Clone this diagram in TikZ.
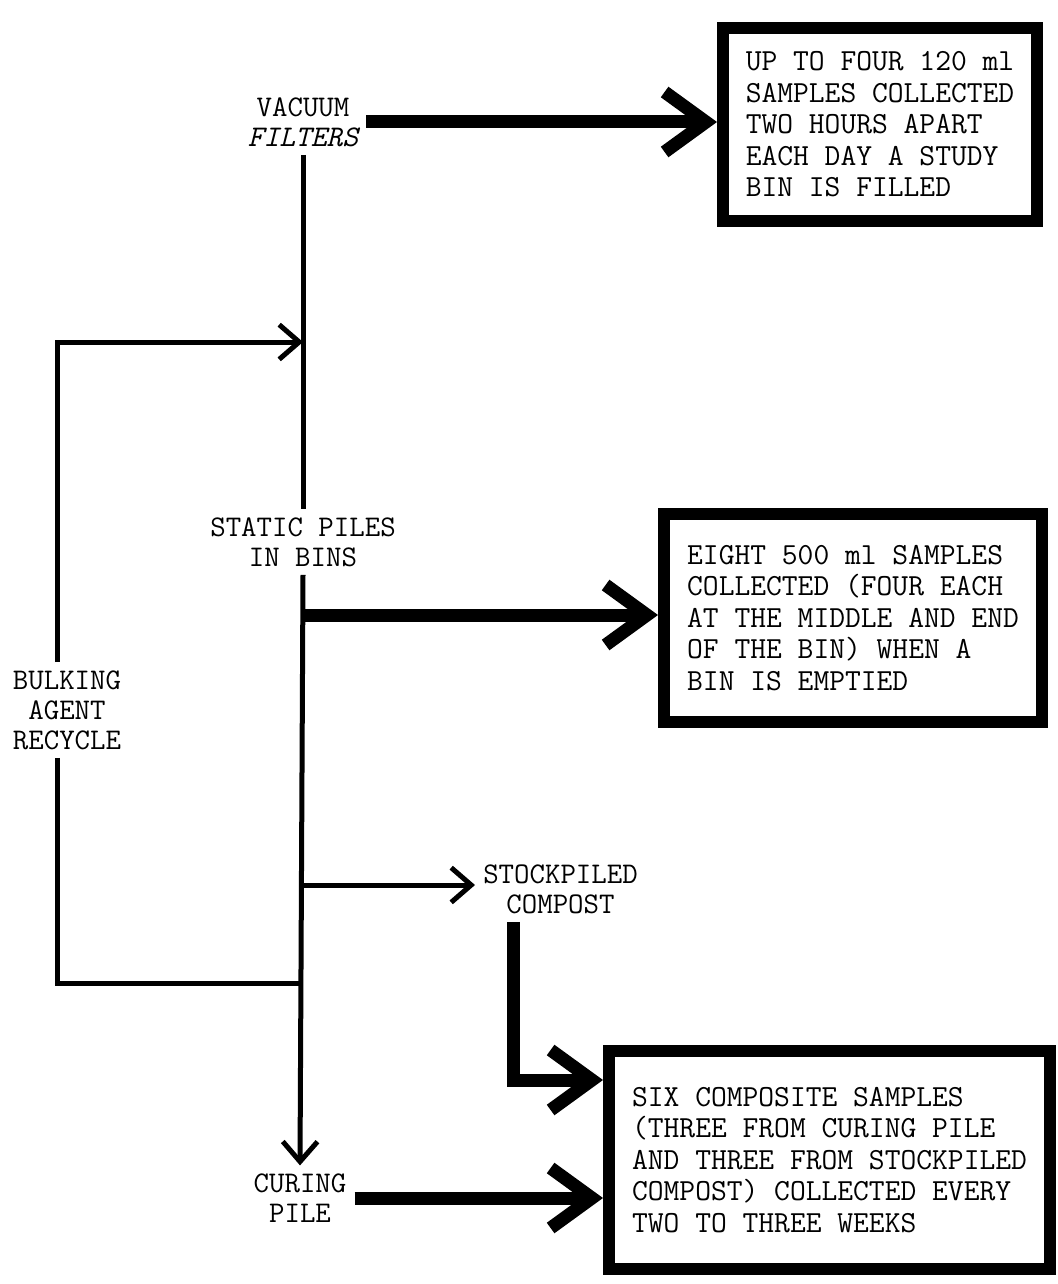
\documentclass[tikz,border=0pt]{standalone}
\usetikzlibrary{arrows.meta}
\begin{document}
\begin{tikzpicture}[x=0.75pt,y=-0.75pt]
    \tikzstyle{every node}=[font=\fontsize{22.5}{22.5}\selectfont\ttfamily, align=center, inner sep=6pt]
    \tikzstyle{flow}=[line width=3.75pt]
    \tikzstyle{light}=[flow, -{Straight Barb[length=15pt,width=26pt]}]
    \tikzstyle{heavy}=[line width=9.75pt, -{Straight Barb[length=31pt,width=45pt]}]
    \tikzstyle{samplebox}=[draw, line width=9pt, align=left, inner sep=2pt, font=\fontsize{23}{23.6}\selectfont\ttfamily]
    \useasboundingbox (0,0) rectangle (1057,1284);
    \node (vac) at (303,122) {VACUUM\\{\itshape FILTERS}};
    \node (static) at (303,542) {STATIC PILES\\IN BINS};
    \node (bulk) at (67,710) {BULKING\\AGENT\\RECYCLE};
    \node[anchor=west] (stock) at (475,889) {STOCKPILED\\COMPOST};
    \node (curing) at (300,1198) {CURING\\PILE};
    \node[samplebox, minimum width=235.5pt, minimum height=144.75pt] (box1) at (880,124.5) {UP TO FOUR 120 ml\\SAMPLES COLLECTED\\TWO HOURS APART\\EACH DAY A STUDY\\BIN IS FILLED};
    \node[samplebox, minimum width=283.5pt, minimum height=156pt] (box2) at (853,618) {EIGHT 500 ml SAMPLES\\COLLECTED (FOUR EACH\\AT THE MIDDLE AND END\\OF THE BIN) WHEN A\\BIN IS EMPTIED};
    \node[samplebox, minimum width=330.75pt, minimum height=163.5pt] (box3) at (829.5,1160) {SIX COMPOSITE SAMPLES\\(THREE FROM CURING PILE\\AND THREE FROM STOCKPILED\\COMPOST) COLLECTED EVERY\\TWO TO THREE WEEKS};
    \coordinate (feed) at (303,342);
    \coordinate (toem) at (303,615);
    \coordinate (tostock) at (303,885);
    \coordinate (back) at (303,983);
    \coordinate (bend) at (513,1080);
    \draw[flow] (vac.south) -- (static.north);
    \draw[light] (static.south) -- (curing.north);
    \draw[light] ([xshift=-7.5pt]bulk.north) |- (feed);
    \draw[flow] ([xshift=-7.5pt]bulk.south) |- (back);
    \draw[light] (tostock) -- (tostock -| stock.west);
    \draw[heavy] (vac.east) -- (vac.east -| box1.west);
    \draw[heavy] (toem) -- (toem -| box2.west);
    \draw[heavy] (stock.south -| bend) |- (box3.west |- bend);
    \draw[heavy] (curing.east) -- (curing.east -| box3.west);
\end{tikzpicture}
\end{document}
